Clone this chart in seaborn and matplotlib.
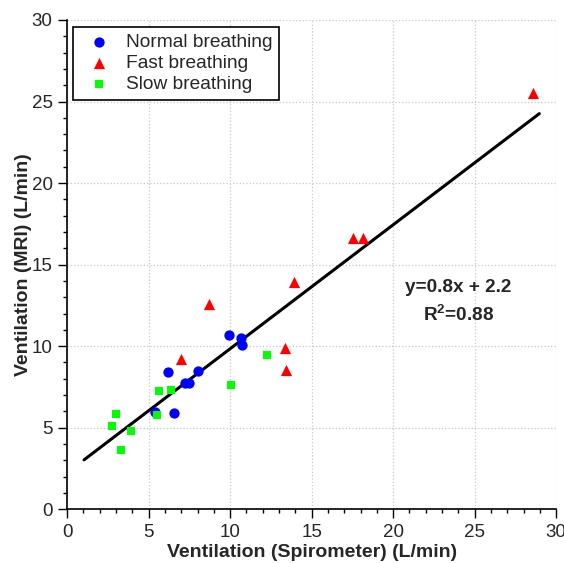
import numpy as np
import pandas as pd
import matplotlib
matplotlib.use("Agg")
import matplotlib.pyplot as plt
import seaborn as sns
from matplotlib.ticker import MultipleLocator

# data
normal_x = [9.96, 10.69, 10.72, 6.21, 8.06, 7.24, 7.48, 5.38, 6.55]
normal_y = [10.66, 10.53, 10.04, 8.39, 8.48, 7.71, 7.71, 5.97, 5.93]

fast_x = [17.53, 18.16, 13.94, 8.73, 6.98, 13.39, 13.42, 28.59]
fast_y = [16.61, 16.61, 13.91, 12.58, 9.20, 9.90, 8.51, 25.50]

slow_x = [12.25, 10.04, 5.63, 6.36, 5.52, 3.00, 2.74, 3.91, 3.31]
slow_y = [9.43, 7.59, 7.24, 7.30, 5.77, 5.87, 5.09, 4.80, 3.66]

fit_x = [1.04, 28.97]
fit_slope = 0.760
fit_intercept = 2.24

sns.set_style("white")
plt.rcParams['font.family'] = ['Liberation Sans', 'DejaVu Sans']
plt.rcParams['mathtext.fontset'] = 'custom'
plt.rcParams['mathtext.rm'] = 'Liberation Sans'
plt.rcParams['mathtext.bf'] = 'Liberation Sans:bold'

fig = plt.figure(figsize=(5.64, 5.63), dpi=100)
ax = fig.add_axes([0.119, 0.0955, 0.867, 0.869])

normal = pd.DataFrame({'x': normal_x, 'y': normal_y})
fast = pd.DataFrame({'x': fast_x, 'y': fast_y})
slow = pd.DataFrame({'x': slow_x, 'y': slow_y})

sns.scatterplot(data=normal, x='x', y='y', ax=ax, color='#0000ff', marker='o',
                s=55, linewidth=0, label='Normal breathing', zorder=3)
sns.scatterplot(data=fast, x='x', y='y', ax=ax, color='#ff0000', marker='^',
                s=65, linewidth=0, label='Fast breathing', zorder=3)
sns.scatterplot(data=slow, x='x', y='y', ax=ax, color='#00ff00', marker='s',
                s=32, linewidth=0, label='Slow breathing', zorder=3)

fit = pd.DataFrame({'x': fit_x})
fit['y'] = fit_slope * fit['x'] + fit_intercept
sns.lineplot(data=fit, x='x', y='y', ax=ax, color='black', linewidth=2.2, zorder=2)

ax.text(24.0, 13.6, 'y=0.8x + 2.2', ha='center', va='center',
        fontsize=13.7, fontweight='bold')
ax.text(24.0, 11.95, r'R$^{\mathbf{2}}$=0.88', ha='center', va='center',
        fontsize=13.7, fontweight='bold')

ax.set_xlim(0, 30)
ax.set_ylim(0, 30)
ax.xaxis.set_major_locator(MultipleLocator(5))
ax.yaxis.set_major_locator(MultipleLocator(5))
ax.xaxis.set_minor_locator(MultipleLocator(1))
ax.yaxis.set_minor_locator(MultipleLocator(1))
ax.tick_params(which='major', direction='out', length=6.5, width=1, color='black',
               labelsize=13.5, bottom=True, left=True, pad=4)
ax.tick_params(which='minor', direction='out', length=3, width=1, color='black',
               bottom=True, left=True)

ax.grid(True, which='major', color='#c8c8c8', linestyle=':', linewidth=0.9)
ax.set_axisbelow(True)

for side in ['top', 'right']:
    ax.spines[side].set_visible(False)
for side in ['left', 'bottom']:
    ax.spines[side].set_color('black')
    ax.spines[side].set_linewidth(1.2)

ax.set_xlabel('Ventilation (Spirometer) (L/min)', fontsize=14, fontweight='bold', labelpad=2)
ax.set_ylabel('Ventilation (MRI) (L/min)', fontsize=14, fontweight='bold', labelpad=0)

leg = ax.legend(loc='upper left', bbox_to_anchor=(0.012, 0.986), borderaxespad=0,
                fontsize=13.8, frameon=True, fancybox=False, edgecolor='black',
                framealpha=1, handletextpad=0.4, labelspacing=0.2, borderpad=0.35)
leg.get_frame().set_linewidth(1.2)

plt.savefig('out.png', dpi=100)
